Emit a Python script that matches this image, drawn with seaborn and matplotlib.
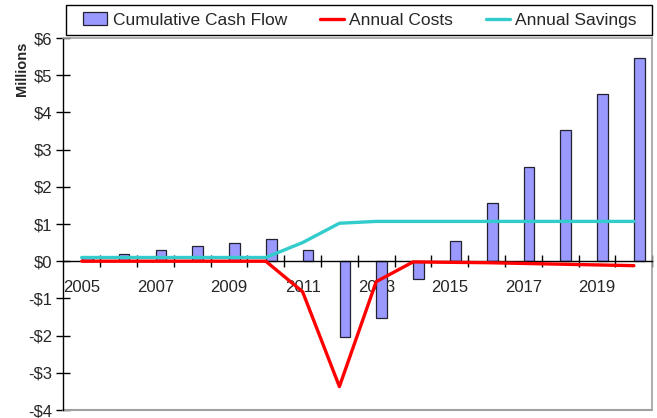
import matplotlib
matplotlib.use('Agg')
import matplotlib.pyplot as plt
import matplotlib.ticker as mticker
from matplotlib.patches import Patch, Rectangle
from matplotlib.lines import Line2D
import numpy as np
import pandas as pd
import seaborn as sns

years = list(range(2005, 2021))
cumulative_cash_flow = [0.1, 0.2, 0.3, 0.4, 0.5, 0.6, 0.3, -2.03, -1.52, -0.48,
                        0.54, 1.56, 2.54, 3.53, 4.5, 5.45]
annual_costs = [0, 0, 0, 0, 0, 0, -0.82, -3.37, -0.55, -0.02,
                -0.03, -0.04, -0.06, -0.08, -0.10, -0.12]
annual_savings = [0.1, 0.1, 0.1, 0.1, 0.1, 0.1, 0.5, 1.02, 1.07, 1.07,
                  1.07, 1.07, 1.07, 1.07, 1.07, 1.07]

sns.set_theme(style='white')
plt.rcParams['font.family'] = ['Liberation Sans', 'DejaVu Sans']

idx = np.arange(len(years))
df = pd.DataFrame({'pos': idx, 'year': years, 'cash': cumulative_cash_flow,
                   'costs': annual_costs, 'savings': annual_savings})
df['barpos'] = df['pos'] + 0.15

W, H = 657, 418
fig = plt.figure(figsize=(W / 100, H / 100), dpi=100)
ax = fig.add_axes([63.3 / W, 8 / H, 589 / W, 372 / H])

bar_color = '#9999FF'
edge = '#222233'
sns.barplot(data=df, x='barpos', y='cash', native_scale=True, width=0.29,
            color=bar_color, edgecolor=edge, linewidth=0.9, saturation=1,
            ax=ax, zorder=2)
sns.lineplot(data=df, x='pos', y='savings', color='#33CCCC', linewidth=2.4,
             ax=ax, zorder=3)
sns.lineplot(data=df, x='pos', y='costs', color='#FF0000', linewidth=2.4,
             ax=ax, zorder=4)

ax.set_xlim(-0.5, len(years) - 0.5)
ax.set_ylim(-4, 6)

# frame: gray box, black left axis, black zero axis
for side in ['top', 'right']:
    ax.spines[side].set_color('#A0A0A0')
    ax.spines[side].set_linewidth(1.2)
ax.spines['left'].set_color('black')
ax.spines['left'].set_linewidth(1.0)
ax.spines['bottom'].set_position(('data', 0))
ax.spines['bottom'].set_color('black')
ax.spines['bottom'].set_linewidth(1.0)
ax.axhline(-4, color='#A0A0A0', linewidth=1.5, clip_on=False, zorder=1)

ax.yaxis.set_major_locator(mticker.MultipleLocator(1))
ax.yaxis.set_major_formatter(mticker.FuncFormatter(
    lambda v, p: '$%d' % v if v >= 0 else '-$%d' % abs(v)))
ax.tick_params(axis='y', which='major', direction='inout', length=10,
               width=1, color='black', left=True, labelsize=12, pad=3)

ax.set_xticks(idx[::2])
ax.set_xticklabels([str(y) for y in years[::2]])
ax.set_xticks(np.arange(0.5, len(years) - 0.5 + 0.01, 1), minor=True)
ax.tick_params(axis='x', which='major', length=0, labelsize=12, pad=13.5)
ax.tick_params(axis='x', which='minor', direction='inout', length=8,
               width=1, color='black', bottom=True)
ax.set_xlabel('')
ax.set_ylabel('Millions', fontweight='bold', fontsize=10.5, loc='top')
ax.yaxis.set_label_coords(-0.059, 0.99)

# legend box above the plot
fig.patches.append(Rectangle((66 / W, 1 - 35 / H), 586 / W, 30 / H,
                             transform=fig.transFigure, facecolor='white',
                             edgecolor='black', linewidth=1.0))
handles = [Patch(facecolor=bar_color, edgecolor=edge, linewidth=0.9),
           Line2D([], [], color='#FF0000', linewidth=2.4),
           Line2D([], [], color='#33CCCC', linewidth=2.4)]
labels = ['Cumulative Cash Flow', 'Annual Costs', 'Annual Savings']
fig.legend(handles, labels, loc='center', ncol=3,
           bbox_to_anchor=(360 / W, 1 - 20 / H),
           frameon=False, fontsize=12.5, handlelength=1.38,
           handletextpad=0.3, columnspacing=1.9, borderaxespad=0, borderpad=0)

fig.savefig('out.png', dpi=100)
